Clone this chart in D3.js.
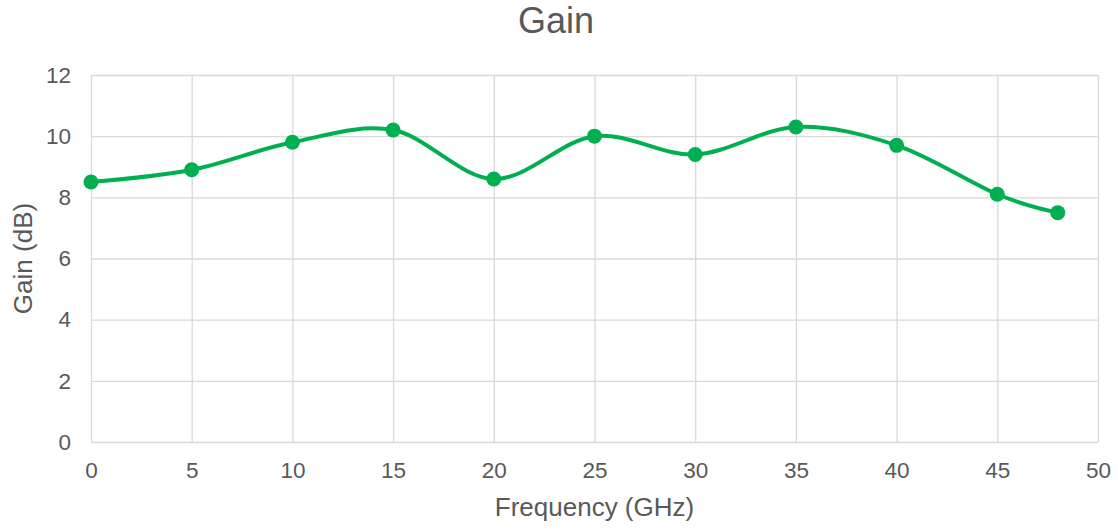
<!DOCTYPE html>
<html>
<head>
<meta charset="utf-8">
<script src="https://cdn.jsdelivr.net/npm/d3@7"></script>
<style>
  html, body { margin: 0; padding: 0; background: #fff; }
  svg { display: block; }
</style>
</head>
<body>
<svg id="chart" width="1118" height="529"></svg>
<script>
const frequency = [0, 5, 10, 15, 20, 25, 30, 35, 40, 45, 48];
const gain = [8.5, 8.9, 9.8, 10.2, 8.6, 10.0, 9.4, 10.3, 9.7, 8.1, 7.5];
const xTicks = [0, 5, 10, 15, 20, 25, 30, 35, 40, 45, 50];
const yTicks = [0, 2, 4, 6, 8, 10, 12];
const title = "Gain";
const xTitle = "Frequency (GHz)";
const yTitle = "Gain (dB)";

const svg = d3.select("#chart");
const margin = {left: 91, right: 20, top: 75, bottom: 87};
const W = 1118, H = 529;
const x = d3.scaleLinear().domain([0, 50]).range([margin.left, W - margin.right]);
const y = d3.scaleLinear().domain([0, 12]).range([H - margin.bottom, margin.top]);
const font = "'Liberation Sans', Arial, sans-serif";
const textColor = "#595959";
const gridColor = "#d9d9d9";

// gridlines
svg.append("g")
  .attr("transform", `translate(0,${y(0)})`)
  .call(d3.axisBottom(x).tickValues(xTicks).tickSize(-(y(0) - y(12))).tickFormat(""))
  .call(g => g.select(".domain").remove())
  .call(g => g.selectAll("line").attr("stroke", gridColor).attr("stroke-width", 1.3));
svg.append("g")
  .attr("transform", `translate(${x(0)},0)`)
  .call(d3.axisLeft(y).tickValues(yTicks).tickSize(-(x(50) - x(0))).tickFormat(""))
  .call(g => g.select(".domain").remove())
  .call(g => g.selectAll("line").attr("stroke", gridColor).attr("stroke-width", 1.3));

// tick labels
svg.append("g")
  .attr("transform", `translate(0,${y(0)})`)
  .call(d3.axisBottom(x).tickValues(xTicks).tickSize(0).tickPadding(20).tickFormat(d3.format("d")))
  .call(g => g.select(".domain").remove())
  .call(g => g.selectAll("text").attr("fill", textColor).style("font-family", font).style("font-size", "22.5px"));
svg.append("g")
  .attr("transform", `translate(${x(0)},0)`)
  .call(d3.axisLeft(y).tickValues(yTicks).tickSize(0).tickPadding(20).tickFormat(d3.format("d")))
  .call(g => g.select(".domain").remove())
  .call(g => g.selectAll("text").attr("fill", textColor).style("font-family", font).style("font-size", "22.5px"));

// line
const pts = frequency.map((f, i) => [f, gain[i]]);
svg.append("path")
  .datum(pts)
  .attr("fill", "none")
  .attr("stroke", "#00B050")
  .attr("stroke-width", 4)
  .attr("stroke-linejoin", "round")
  .attr("d", d3.line().x(d => x(d[0])).y(d => y(d[1])).curve(d3.curveCardinal.tension(0)));

svg.append("g").selectAll("circle")
  .data(pts).join("circle")
  .attr("cx", d => x(d[0])).attr("cy", d => y(d[1])).attr("r", 7.5)
  .attr("fill", "#00B050");

// titles
svg.append("text").attr("x", 556).attr("y", 33).attr("text-anchor", "middle")
  .attr("fill", textColor).style("font-family", font).style("font-size", "36px").text(title);
svg.append("text").attr("x", x(25)).attr("y", 516).attr("text-anchor", "middle")
  .attr("fill", textColor).style("font-family", font).style("font-size", "26px").text(xTitle);
svg.append("text").attr("transform", `translate(32,${(y(0) + y(12)) / 2}) rotate(-90)`)
  .attr("text-anchor", "middle")
  .attr("fill", textColor).style("font-family", font).style("font-size", "26px").text(yTitle);
</script>
</body>
</html>
